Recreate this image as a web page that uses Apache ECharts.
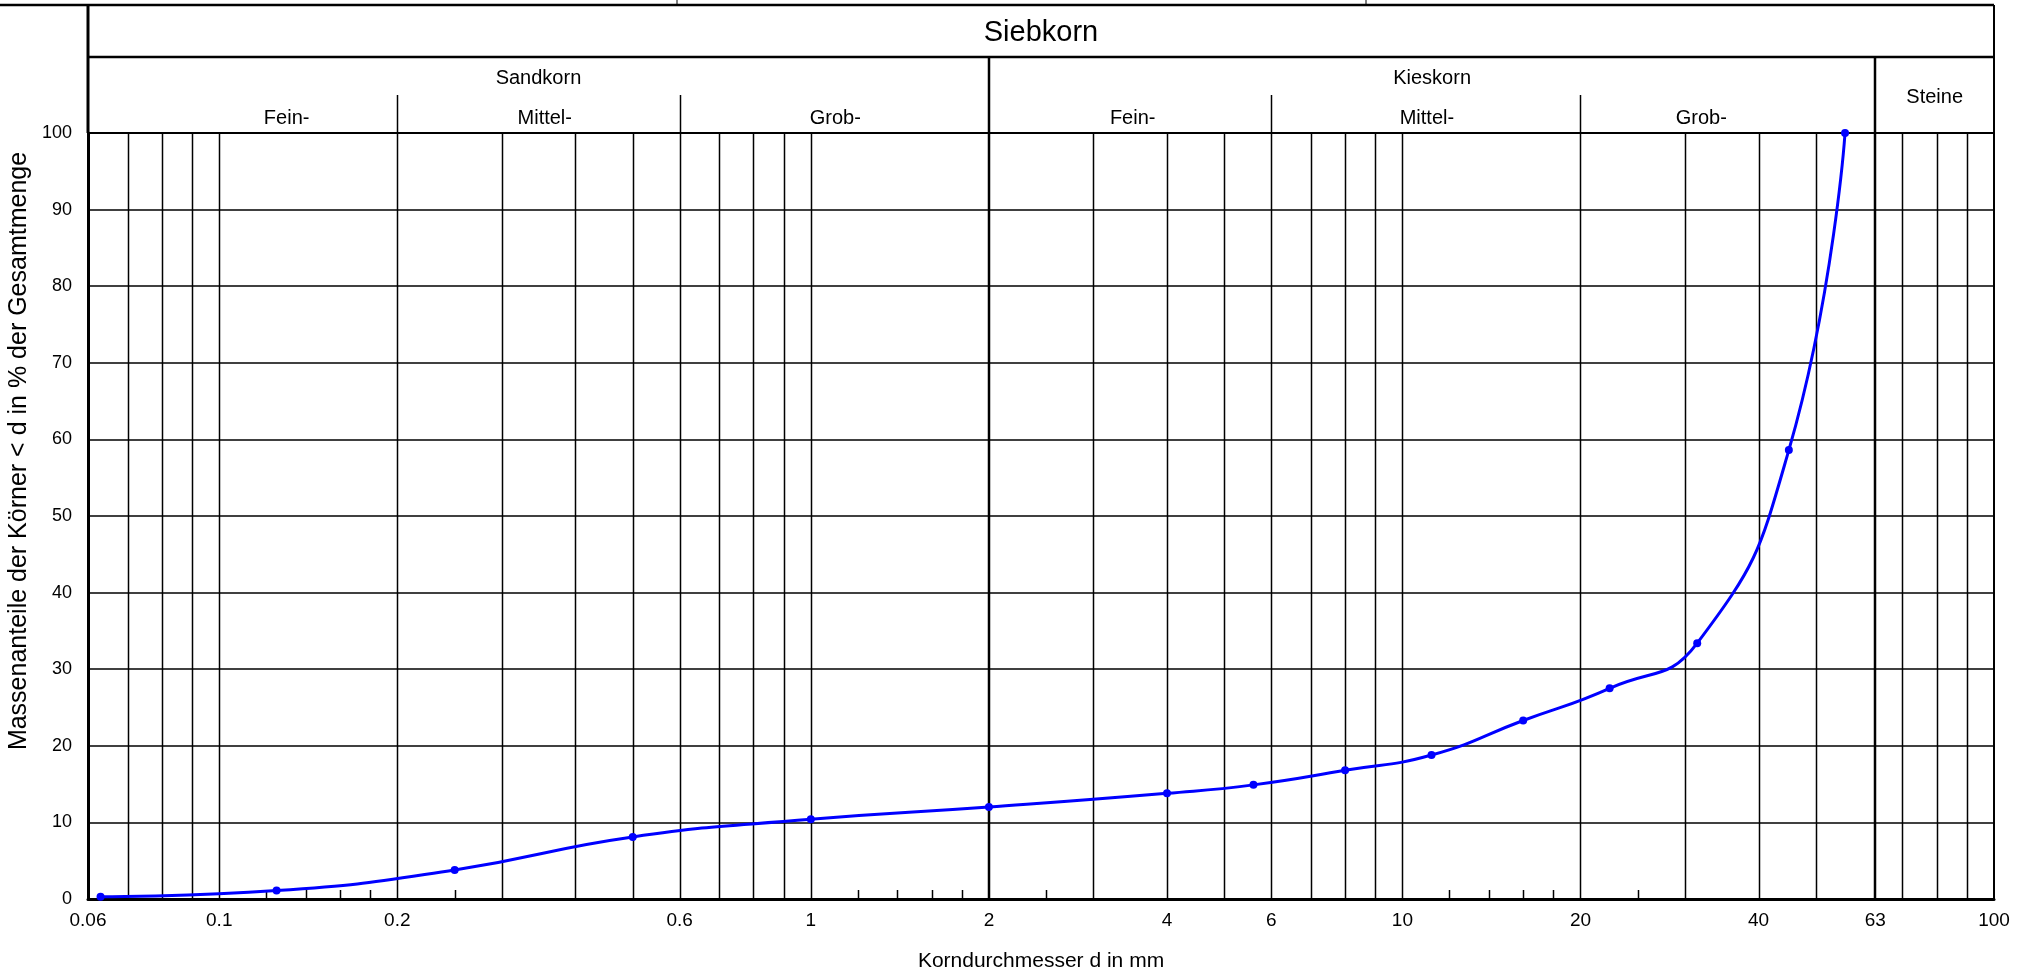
<!DOCTYPE html>
<html>
<head>
<meta charset="utf-8">
<script src="https://cdn.jsdelivr.net/npm/echarts@6/dist/echarts.min.js"></script>
<style>
html,body{margin:0;padding:0;background:#fff;}
#chart{width:2022px;height:977px;}
</style>
</head>
<body>
<div id="chart"></div>
<script>
// ---- data ----
const sieveSizes = [0.063, 0.125, 0.25, 0.5, 1, 2, 4, 5.6, 8, 11.2, 16, 22.4, 31.5, 45, 56];
const passingPct = [0.3, 1.1, 3.8, 8.1, 10.4, 12.0, 13.8, 14.9, 16.8, 18.8, 23.3, 27.5, 33.4, 58.6, 100];
const xTickLabels = [0.06, 0.1, 0.2, 0.6, 1, 2, 4, 6, 10, 20, 40, 63, 100];
const gridLinesX = [0.07, 0.08, 0.09, 0.1, 0.2, 0.3, 0.4, 0.5, 0.6, 0.7, 0.8, 0.9, 1, 2, 3, 4, 5, 6, 7, 8, 9, 10, 20, 30, 40, 50, 63, 70, 80, 90];
const majorLinesX = [2, 63];
const minorTicksX = [0.12, 0.14, 0.16, 0.18, 0.25, 1.2, 1.4, 1.6, 1.8, 2.5, 12, 14, 16, 18, 25];
const headerTitle = 'Siebkorn';
const groupNames = ['Sandkorn', 'Kieskorn', 'Steine'];
const groupBounds = [[0.06, 2], [2, 63], [63, 100]];
const subNames = ['Fein-', 'Mittel-', 'Grob-', 'Fein-', 'Mittel-', 'Grob-'];
const subBounds = [[0.06, 0.2], [0.2, 0.6], [0.6, 2], [2, 6], [6, 20], [20, 63]];
const subLabelAt = [0.13, 0.355, 1.1, 3.5, 11, 32];
const xAxisTitle = 'Korndurchmesser d in mm';
const yAxisTitle = 'Massenanteile der Körner < d in % der Gesamtmenge';

// ---- styles ----
const FONT = '"Liberation Sans", Arial, Helvetica, sans-serif';
const BLACK = '#000';

const chart = echarts.init(document.getElementById('chart'), null, {renderer: 'canvas'});

function seg(x1, y1, x2, y2, w) {
  return {type: 'line', shape: {x1: x1, y1: y1, x2: x2, y2: y2}, style: {stroke: BLACK, lineWidth: w}, silent: true};
}
function txt(s, x, y, size) {
  return {type: 'text', x: x, y: y, style: {text: s, fill: BLACK, font: size + 'px ' + FONT, align: 'center', verticalAlign: 'middle'}, silent: true};
}

const option = {
  animation: false,
  backgroundColor: '#fff',
  grid: {left: 88, right: 28, top: 133, bottom: 67, show: true, borderColor: BLACK, borderWidth: 2, containLabel: false},
  xAxis: {
    type: 'log', logBase: 10, min: 0.06, max: 100,
    name: xAxisTitle, nameLocation: 'middle', nameGap: 52,
    nameTextStyle: {fontFamily: FONT, fontSize: 21, color: BLACK},
    axisLine: {show: true, onZero: false, lineStyle: {color: BLACK, width: 3}},
    axisTick: {show: false}, axisLabel: {show: false}, splitLine: {show: false}, minorSplitLine: {show: false}
  },
  yAxis: {
    type: 'value', min: 0, max: 100, interval: 10,
    axisLine: {show: true, lineStyle: {color: BLACK, width: 3}},
    axisTick: {show: false},
    axisLabel: {color: BLACK, fontFamily: FONT, fontSize: 18, margin: 16},
    splitLine: {show: true, lineStyle: {color: BLACK, width: 1.5}}
  },
  graphic: [
    {type: 'text', x: 19, y: 451, rotation: Math.PI / 2,
     style: {text: yAxisTitle, fill: BLACK, font: '25px ' + FONT, align: 'center', verticalAlign: 'middle'}},
    {type: 'line', shape: {x1: 677, y1: 0, x2: 677, y2: 5}, style: {stroke: BLACK, lineWidth: 1}},
    {type: 'line', shape: {x1: 1366, y1: 0, x2: 1366, y2: 5}, style: {stroke: BLACK, lineWidth: 1}}
  ],
  series: [
    {
      name: 'vgrid', type: 'custom', clip: false, z: 1, silent: true,
      data: gridLinesX.map(v => [v, 0]),
      encode: {x: 0, y: 1},
      renderItem: function (params, api) {
        const v = api.value(0);
        const p0 = api.coord([v, 0]);
        const p1 = api.coord([v, 100]);
        const major = majorLinesX.indexOf(v) >= 0;
        const x = major ? Math.round(p0[0]) : Math.round(p0[0]) + 0.5;
        return seg(x, p0[1], x, p1[1], major ? 2.5 : 1.5);
      }
    },
    {
      name: 'minorTicks', type: 'custom', clip: false, z: 1, silent: true,
      data: minorTicksX.map(v => [v, 0]),
      encode: {x: 0, y: 1},
      renderItem: function (params, api) {
        const p = api.coord([api.value(0), 0]);
        const x = Math.round(p[0]) + 0.5;
        return seg(x, p[1], x, p[1] - 9, 1.5);
      }
    },
    {
      name: 'xLabels', type: 'custom', clip: false, z: 3, silent: true,
      data: xTickLabels.map(v => [v, 0]),
      encode: {x: 0, y: 1},
      renderItem: function (params, api) {
        const v = api.value(0);
        const p = api.coord([v, 0]);
        return txt(String(v), p[0], p[1] + 22, 19);
      }
    },
    {
      name: 'header', type: 'custom', clip: false, z: 3, silent: true,
      data: [[0.06, 100]],
      encode: {x: 0, y: 1},
      renderItem: function (params, api) {
        const L = api.coord([0.06, 100]);
        const R = api.coord([100, 100]);
        const top = L[1];
        const yTitleTop = top - 128, yTitleBot = top - 76, ySubTop = top - 38;
        const children = [];
        children.push(seg(0, yTitleTop, R[0], yTitleTop, 2.5));
        children.push(seg(L[0], yTitleTop, L[0], top, 3));
        children.push(seg(R[0], yTitleTop, R[0], top, 2));
        children.push(seg(L[0], yTitleBot, R[0], yTitleBot, 2.5));
        children.push(txt(headerTitle, (L[0] + R[0]) / 2, yTitleTop + 28, 29));
        groupBounds.forEach(function (b, i) {
          const a = api.coord([b[0], 100])[0], c = api.coord([b[1], 100])[0];
          if (b[0] > 0.06) children.push(seg(Math.round(a), yTitleBot, Math.round(a), top, 2.5));
          const single = groupNames[i] === 'Steine';
          children.push(txt(groupNames[i], (a + c) / 2, single ? (yTitleBot + top) / 2 + 2 : yTitleBot + 21, 20));
        });
        subBounds.forEach(function (b, i) {
          const a = api.coord([b[0], 100])[0];
          if (b[0] > 0.06 && majorLinesX.indexOf(b[0]) < 0) children.push(seg(Math.round(a) + 0.5, ySubTop, Math.round(a) + 0.5, top, 1.5));
          const m = api.coord([subLabelAt[i], 100])[0];
          children.push(txt(subNames[i], m, top - 15, 20));
        });
        return {type: 'group', children: children};
      }
    },
    {
      name: 'Siebkorn', type: 'line', z: 5,
      data: sieveSizes.map((s, i) => [s, passingPct[i]]),
      smooth: 0.5,
      symbol: 'circle', symbolSize: 8,
      lineStyle: {color: '#0000ff', width: 3},
      itemStyle: {color: '#0000ff'}
    }
  ]
};
chart.setOption(option);
</script>
</body>
</html>
